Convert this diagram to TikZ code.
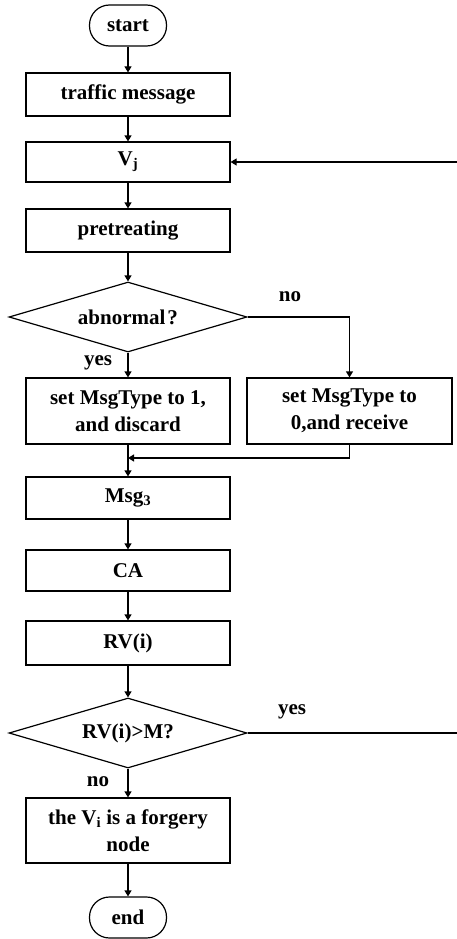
\documentclass[tikz,border=0pt]{standalone}
\usepackage{fontspec}
\setmainfont{Liberation Serif}
\usetikzlibrary{shapes.geometric,arrows.meta}
\begin{document}
\begin{tikzpicture}[x=1pt,y=-1pt,
  every node/.style={font=\fontsize{21}{27}\selectfont\bfseries},
  proc/.style={draw,line width=1.2pt,minimum width=204pt,inner sep=0pt,align=center},
  term/.style={draw,line width=1.2pt,rounded corners=20pt,minimum width=77pt,minimum height=41pt,inner sep=0pt},
  dec/.style={draw,line width=1.2pt,diamond,shape aspect=3.4,minimum width=238pt,minimum height=70pt,inner sep=0pt},
  lbl/.style={inner sep=0pt},
  conn/.style={line width=1.2pt,-{Triangle[length=6pt,width=7pt]}},
  line/.style={line width=1.2pt}]
\useasboundingbox (0,0) rectangle (456,939);
\node[term] (start) at (128,25.5) {start};
\node[proc,minimum height=43pt] (traffic) at (128,94.5) {traffic message};
\node[proc,minimum height=40pt] (vj) at (128,162) {V\textsubscript{j}};
\node[proc,minimum height=43pt] (pre) at (128,230.5) {pretreating};
\node[dec] (abn) at (128,317) {abnormal\kern2pt?};
\node[proc,minimum height=66pt] (set1) at (128,411) {set MsgType to 1,\\and discard};
\node[proc,minimum height=66pt,minimum width=205pt] (set0) at (349.5,411) {set MsgType to\\0,and receive};
\node[proc,minimum height=42pt] (msg) at (128,498) {Msg\textsubscript{3}};
\node[proc,minimum height=41pt] (ca) at (128,570.5) {CA};
\node[proc,minimum height=44pt] (rv) at (128,643) {RV(i)};
\node[dec] (cmp) at (128,733) {RV(i)>M?};
\node[proc,minimum height=65pt] (forg) at (128,830.5) {the V\textsubscript{i} is a forgery\\node};
\node[term] (end) at (128,917.5) {end};
\node[lbl] (no1) at (290,297) {no};
\node[lbl] (yes1) at (98,363) {yes};
\node[lbl] (yes2) at (292,712) {yes};
\node[lbl] (no2) at (98,782) {no};
\coordinate (merge) at (128,458);
\coordinate (loopA) at (460,733);
\coordinate (loopB) at (460,162);
\draw[conn] (start) -- (traffic);
\draw[conn] (traffic) -- (vj);
\draw[conn] (vj) -- (pre);
\draw[conn] (pre) -- (abn);
\draw[conn] (abn) -- (set1);
\draw[conn] (abn.east) -| (set0.north);
\draw[conn] (set0.south) |- (merge);
\draw[conn] (set1) -- (msg);
\draw[conn] (msg) -- (ca);
\draw[conn] (ca) -- (rv);
\draw[conn] (rv) -- (cmp);
\draw[conn] (cmp) -- (forg);
\draw[conn] (forg) -- (end);
\draw[conn] (cmp.east) -- (loopA) -- (loopB) -- (vj.east);
\end{tikzpicture}
\end{document}
